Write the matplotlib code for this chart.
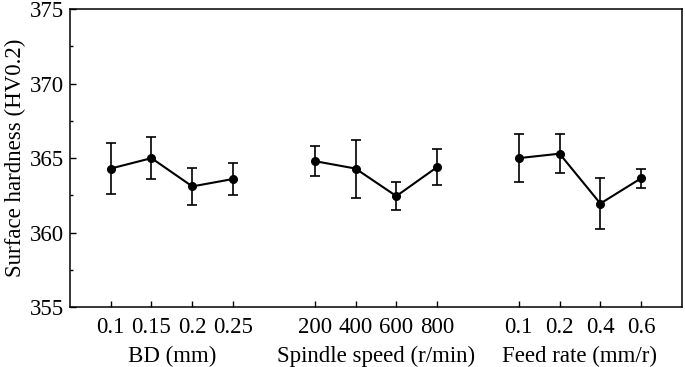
import matplotlib
matplotlib.use("Agg")
import matplotlib.pyplot as plt
from matplotlib.ticker import MultipleLocator

plt.rcParams['font.family'] = ['Liberation Serif', 'DejaVu Serif']

groups = ["BD (mm)", "Spindle speed (r/min)", "Feed rate (mm/r)"]
bd_labels = ["0.1", "0.15", "0.2", "0.25"]
bd_vals = [364.3, 365.0, 363.1, 363.6]
bd_err = [1.7, 1.4, 1.25, 1.05]
sp_labels = ["200", "400", "600", "800"]
sp_vals = [364.8, 364.3, 362.45, 364.4]
sp_err = [1.0, 1.95, 0.95, 1.2]
fr_labels = ["0.1", "0.2", "0.4", "0.6"]
fr_vals = [365.0, 365.3, 361.95, 363.65]
fr_err = [1.6, 1.3, 1.7, 0.65]

FS = 16.5
fig = plt.figure(figsize=(6.85, 3.67), dpi=100)
ax = fig.add_axes([0.102, 0.1635, 0.8936, 0.8112])

series = [(bd_labels, bd_vals, bd_err), (sp_labels, sp_vals, sp_err), (fr_labels, fr_vals, fr_err)]
ticks, labels = [], []
for g, (lab, vals, err) in enumerate(series):
    xs = [1 + g * 5 + i for i in range(len(vals))]
    ax.errorbar(xs, vals, yerr=err, color='black', lw=1.5, marker='o', ms=5.5,
                capsize=3.5, capthick=1.2, elinewidth=1.2)
    ticks += xs
    labels += lab
    ax.text(sum(xs) / len(xs), -0.13, groups[g], transform=ax.get_xaxis_transform(),
            ha='center', va='top', fontsize=FS)

ax.set_xlim(0, 15)
ax.set_ylim(355, 375)
ax.set_xticks(ticks)
ax.set_xticklabels(labels)
ax.yaxis.set_major_locator(MultipleLocator(5))
ax.yaxis.set_minor_locator(MultipleLocator(2.5))
ax.tick_params(axis='both', direction='in', labelsize=FS, length=4, width=1)
ax.tick_params(axis='y', which='minor', direction='in', length=2.5, width=1)
ax.tick_params(axis='x', pad=7)
ax.tick_params(axis='y', pad=4)
for s in ax.spines.values():
    s.set_linewidth(1.1)
ax.set_ylabel("Surface hardness (HV0.2)", fontsize=FS, labelpad=3)

fig.savefig("out.png", dpi=100)
